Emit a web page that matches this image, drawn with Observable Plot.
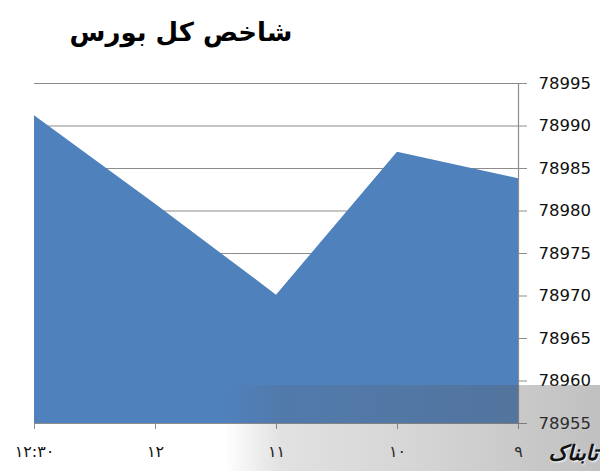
<!DOCTYPE html>
<html>
<head>
<meta charset="utf-8">
<script src="https://cdn.jsdelivr.net/npm/d3@7"></script>
<script src="https://cdn.jsdelivr.net/npm/@observablehq/plot@0.6"></script>
<style>
  body { margin: 0; background: #fff; width: 600px; height: 473px; overflow: hidden; position: relative; font-family: "DejaVu Sans", sans-serif; }
  #title { position: absolute; left: 0; top: 17px; width: 362px; text-align: center; font: bold 26px "DejaVu Sans", sans-serif; color: #000; direction: rtl; }
  #chart { position: absolute; left: 0; top: 60px; }
  #wm { position: absolute; left: 225px; top: 385px; width: 375px; height: 86px;
        background: linear-gradient(to right, rgba(90,90,90,0) 0%, rgba(90,90,90,0.18) 15%, rgba(90,90,90,0.25) 50%, rgba(90,90,90,0.38) 100%); }
  #logo { position: absolute; right: 2px; top: 439px; font: italic bold 21px "DejaVu Sans", sans-serif; color: #111; direction: rtl; line-height: 28px; text-shadow: 1px 1px 2px #fff; }
</style>
</head>
<body>
<div id="title">شاخص کل بورس</div>
<div id="chart"></div>
<div id="wm"></div>
<div id="logo">تابناک</div>
<script>
const times = ["۱۲:۳۰", "۱۲", "۱۱", "۱۰", "۹"];
const values = [78991.2, 78980.8, 78970.1, 78986.9, 78983.8];
const yTicks = [78955, 78960, 78965, 78970, 78975, 78980, 78985, 78990, 78995];
const yMin = 78955, yMax = 78995;

const data = times.map((t, i) => ({t, v: values[i]}));

const chart = Plot.plot({
  width: 600,
  height: 413,
  marginTop: 23,
  marginBottom: 50,
  marginLeft: 34,
  marginRight: 82,
  style: {fontFamily: "DejaVu Sans, sans-serif", background: "transparent"},
  x: {type: "point", domain: times, padding: 0},
  y: {domain: [yMin, yMax], ticks: yTicks},
  marks: [
    Plot.ruleY(yTicks, {stroke: "#8c8c8c", strokeWidth: 1.2}),
    Plot.areaY(data, {x: "t", y1: yMin, y2: "v", fill: "#4f81bd", curve: "linear"}),
    Plot.ruleY([yMin], {stroke: "#8c8c8c", strokeWidth: 1.2}),
    Plot.ruleX([times[times.length - 1]], {stroke: "#8c8c8c", strokeWidth: 1.2}),
    Plot.axisY({anchor: "right", ticks: yTicks, tickFormat: d => String(d), tickSize: 8, tickPadding: 12, fontSize: 16.5, stroke: "#8c8c8c", color: "#111", label: null}),
    Plot.axisX({anchor: "bottom", tickSize: 6, tickPadding: 16, fontSize: 16, stroke: "#8c8c8c", color: "#111", label: null})
  ]
});
document.getElementById("chart").appendChild(chart);
</script>
</body>
</html>
